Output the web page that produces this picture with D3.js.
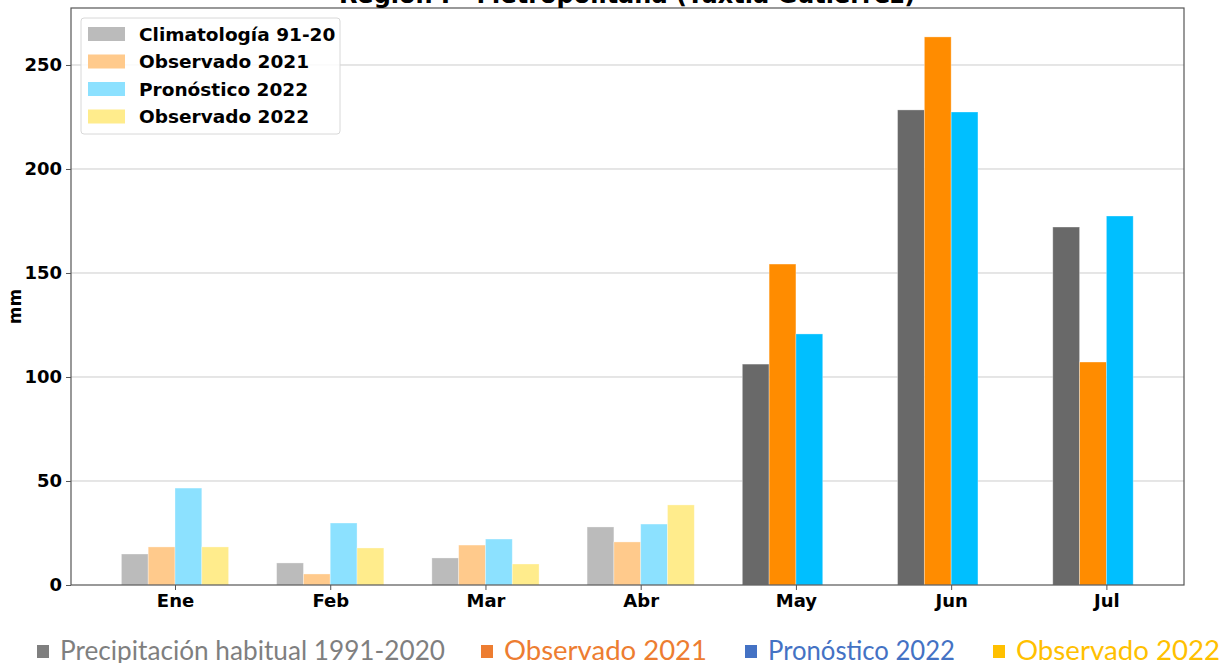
<!DOCTYPE html>
<html>
<head>
<meta charset="utf-8">
<script src="https://cdn.jsdelivr.net/npm/d3@7"></script>
<style>
	body { margin: 0; background: #fff; }
	svg { display: block; }
</style>
</head>
<body>
<div id="chart"></div>
<script>
// --- DATA --- \\
var months = ["Ene", "Feb", "Mar", "Abr", "May", "Jun", "Jul"];
var clima = [14.9, 10.6, 13.0, 27.9, 106.2, 228.4, 172.1];
var obs2021 = [18.3, 5.3, 19.2, 20.7, 154.3, 263.5, 107.2];
var prono2022 = [46.6, 29.8, 22.1, 29.3, 120.7, 227.4, 177.4];
var obs2022 = [18.3, 17.8, 10.1, 38.5, null, null, null];
var yTicks = [0, 50, 100, 150, 200, 250];
var seriesNames = ["Climatología 91-20", "Observado 2021", "Pronóstico 2022", "Observado 2022"];
var footerNames = ["Precipitación habitual 1991-2020", "Observado 2021", "Pronóstico 2022", "Observado 2022"];

// plot box (note: "top" is taken by window.top, so use plot* names)
var W = 1230, H = 663
	, plotL = 71, plotR = 1184, plotT = 8, plotB = 585;

// strong colours for the last months, washed out ones for the first four
var strong = ["#696969", "#ff8c00", "#00bfff", "#ffd700"]
	, light = ["#bbbbbb", "#ffca8c", "#8ce1ff", "#ffec8c"]
	, footerColors = ["#7f7f7f", "#ed7d31", "#4472c4", "#ffc000"];

var svg = d3.select("#chart").append("svg")
	.attr("width", W).attr("height", H);

var x = d3.scaleLinear().domain([-0.67, 6.5]).range([plotL, plotR]);
var y = d3.scaleLinear().domain([0, 277.4]).range([plotB, plotT]);
var barW = 26.8;

// --- GRID --- \\
svg.append("g").selectAll("line").data(yTicks.slice(1)).join("line")
	.attr("x1", plotL).attr("x2", plotR)
	.attr("y1", function (d) { return y(d); })
	.attr("y2", function (d) { return y(d); })
	.attr("stroke", "#cccccc").attr("stroke-width", 1);

// --- BARS --- \\
var allSeries = [clima, obs2021, prono2022, obs2022];
var barData = [];
allSeries.forEach(function (vals, s) {
	vals.forEach(function (v, i) {
		if (v === null) return;
		barData.push({ s: s, i: i, v: v });
	});
});

svg.append("g").selectAll("rect").data(barData).join("rect")
	.attr("x", function (d) { return x(d.i) + (d.s - 2) * barW; })
	.attr("y", function (d) { return y(d.v); })
	.attr("width", barW)
	.attr("height", function (d) { return y(0) - y(d.v); })
	.attr("fill", function (d) { return d.i < 4 ? light[d.s] : strong[d.s]; })
	.attr("stroke", "rgba(255,255,255,0.4)")
	.attr("stroke-width", 0.8);

// --- AXES --- \\
var font = "'DejaVu Sans', sans-serif";

var yAxis = svg.append("g")
	.attr("transform", "translate(" + plotL + ",0)")
	.call(d3.axisLeft(y).tickValues(yTicks).tickSize(5).tickPadding(4));
var xAxis = svg.append("g")
	.attr("transform", "translate(0," + plotB + ")")
	.call(d3.axisBottom(x).tickValues(d3.range(months.length))
		.tickFormat(function (i) { return months[i]; })
		.tickSize(5).tickPadding(4));

[yAxis, xAxis].forEach(function (ax) {
	ax.select(".domain").remove();
	ax.selectAll("line").attr("stroke", "#555");
	ax.selectAll("text")
		.attr("font-family", font).attr("font-weight", "bold")
		.attr("font-size", 18).attr("fill", "#000");
});

// frame
svg.append("rect")
	.attr("x", plotL).attr("y", plotT)
	.attr("width", plotR - plotL).attr("height", plotB - plotT)
	.attr("fill", "none").attr("stroke", "#555").attr("stroke-width", 1.2);

svg.append("text")
	.attr("transform", "translate(21," + ((plotT + plotB) / 2 + 10) + ") rotate(-90)")
	.attr("text-anchor", "middle")
	.attr("font-family", font).attr("font-weight", "bold").attr("font-size", 17)
	.text("mm");

// title, mostly cut off at the top of the picture
svg.append("text")
	.attr("x", 627).attr("y", 3)
	.attr("text-anchor", "middle")
	.attr("font-family", font).attr("font-weight", "bold").attr("font-size", 24)
	.text("Región I - Metropolitana (Tuxtla Gutiérrez)");

// --- LEGEND --- \\
var lg = svg.append("g").attr("transform", "translate(81,18)");
lg.append("rect")
	.attr("width", 259).attr("height", 116).attr("rx", 3)
	.attr("fill", "rgba(255,255,255,0.85)").attr("stroke", "#d8d8d8");
var items = lg.selectAll("g.item").data(seriesNames).join("g")
	.attr("class", "item")
	.attr("transform", function (d, i) { return "translate(0," + (16 + i * 27.5) + ")"; });
items.append("rect")
	.attr("x", 7).attr("y", -7).attr("width", 37).attr("height", 14)
	.attr("fill", function (d, i) { return light[i]; });
items.append("text")
	.attr("x", 58).attr("dy", "0.36em")
	.attr("font-family", font).attr("font-weight", "bold").attr("font-size", 18.5)
	.text(function (d) { return d; });

// --- FOOTER LEGEND --- \\
var footX = [37, 481, 745, 993]
	, footLen = [385, 203, 187, 204];
var foot = svg.append("g").selectAll("g").data(footerNames).join("g")
	.attr("transform", function (d, i) { return "translate(" + footX[i] + ",660)"; });
foot.append("rect")
	.attr("x", 0).attr("y", -15).attr("width", 12).attr("height", 13)
	.attr("fill", function (d, i) { return footerColors[i]; });
foot.append("text")
	.attr("x", 23)
	.attr("font-family", "Lato, 'Noto Sans', sans-serif").attr("font-size", 26)
	.attr("textLength", function (d, i) { return footLen[i]; })
	.attr("lengthAdjust", "spacingAndGlyphs")
	.attr("fill", function (d, i) { return footerColors[i]; })
	.text(function (d) { return d; });
</script>
</body>
</html>
